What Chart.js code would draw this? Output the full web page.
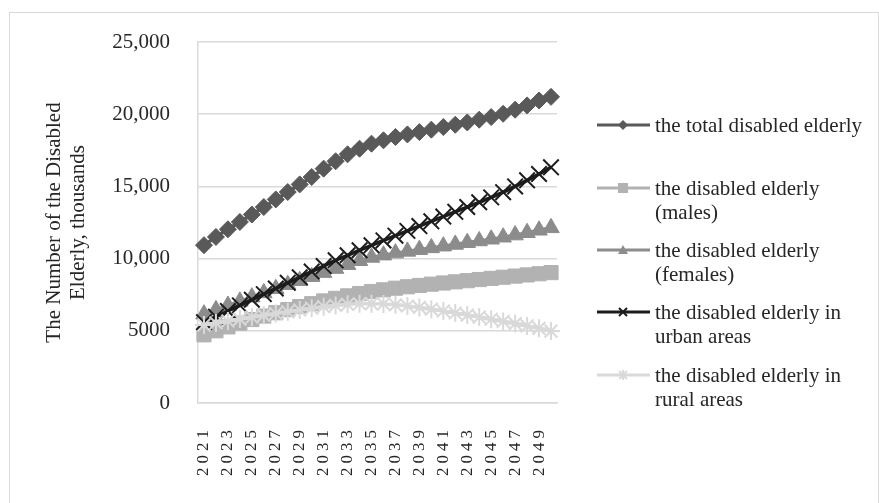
<!DOCTYPE html>
<html>
<head>
<meta charset="utf-8">
<script src="https://cdn.jsdelivr.net/npm/chart.js@4/dist/chart.umd.min.js"></script>
<style>
  html, body { margin: 0; padding: 0; background: #ffffff; }
  #wrap { position: relative; width: 879px; height: 503px; overflow: hidden;
          font-family: "Liberation Serif", "Times New Roman", serif; color: #262626; }
  #frame { position: absolute; left: 9px; top: 12px; width: 870px; height: 540px;
           border: 1.5px solid #d9d9d9; box-sizing: border-box; }
  #c { position: absolute; left: 0; top: 0; }
  .sym { position: absolute; left: 596px; width: 56px; height: 24px; }
  .txt { position: absolute; left: 655px; font-size: 21px; line-height: 24px; white-space: nowrap; }
</style>
</head>
<body>
<div id="wrap">
  <div id="frame"></div>
  <canvas id="c" width="879" height="503"></canvas>
  <div id="legend"></div>
</div>
<script>
// ---- data (thousands) ----
const years = ['2021','2022','2023','2024','2025','2026','2027','2028','2029','2030',
               '2031','2032','2033','2034','2035','2036','2037','2038','2039','2040',
               '2041','2042','2043','2044','2045','2046','2047','2048','2049','2050'];
const totalDisabled = [10930,11500,12030,12540,13050,13570,14100,14610,15140,15650,
                       16230,16740,17220,17610,17960,18190,18420,18600,18760,18930,
                       19110,19270,19430,19620,19800,20030,20310,20610,20950,21200];
const malesDisabled = [4720,5000,5270,5530,5780,6020,6250,6470,6680,6880,
                       7070,7250,7420,7580,7720,7840,7950,8050,8140,8230,
                       8310,8390,8470,8550,8630,8710,8790,8870,8950,9030];
const femalesDisabled = [6150,6450,6750,7040,7330,7620,7910,8190,8470,8750,
                         9030,9310,9580,9850,10080,10240,10380,10500,10620,10740,
                         10860,10980,11100,11220,11340,11480,11630,11790,11960,12130];
const urbanDisabled = [5600,5980,6370,6760,7150,7540,7930,8320,8710,9100,
                       9480,9880,10230,10580,10920,11260,11590,11920,12250,12580,
                       12910,13240,13570,13900,14240,14600,15000,15420,15860,16320];
const ruralDisabled = [5400,5540,5680,5810,5940,6070,6200,6320,6440,6560,
                       6670,6760,6830,6870,6880,6860,6800,6720,6620,6500,
                       6370,6230,6090,5950,5800,5650,5500,5340,5170,4980];
const yTickLabels = ['0','5000','10,000','15,000','20,000','25,000'];
const seriesNames = [
  ['the total disabled elderly'],
  ['the disabled elderly', '(males)'],
  ['the disabled elderly', '(females)'],
  ['the disabled elderly in', 'urban areas'],
  ['the disabled elderly in', 'rural areas']
];
const yTitle = ['The Number of the Disabled', 'Elderly, thousands'];

// ---- styles ----
const FONT = '"Liberation Serif", "Times New Roman", serif';
const TEXT = '#262626';
const GRID = '#d9d9d9';
const styles = [
  { color: '#595959', point: 'rectRot', r: 8.5, bw: 1 },
  { color: '#b2b2b2', point: 'rect', r: 10, bw: 1 },
  { color: '#8c8c8c', point: 'triangle', r: 9.5, bw: 1 },
  { color: '#1c1c1c', point: 'crossRot', r: 11, bw: 2 },
  { color: '#d9d9d9', point: 'star', r: 9, bw: 2 }
];
const seriesData = [totalDisabled, malesDisabled, femalesDisabled, urbanDisabled, ruralDisabled];

const datasets = seriesData.map((d, i) => ({
  label: seriesNames[i].join(' '),
  data: d,
  borderColor: styles[i].color,
  backgroundColor: styles[i].color,
  borderWidth: 3.5,
  pointStyle: styles[i].point,
  pointRadius: styles[i].r,
  pointBorderWidth: styles[i].bw,
  pointBackgroundColor: styles[i].color,
  pointBorderColor: styles[i].color,
  tension: 0.3,
  order: 5 - i
}));

const spacingPlugin = {
  id: 'xLabelSpacing',
  afterDatasetsDraw(chart) { chart.ctx.letterSpacing = '4px'; },
  afterDraw(chart) { chart.ctx.letterSpacing = '0px'; }
};

new Chart(document.getElementById('c'), {
  type: 'line',
  data: { labels: years, datasets },
  plugins: [spacingPlugin],
  options: {
    responsive: false,
    animation: false,
    devicePixelRatio: 1,
    layout: { padding: { left: 38, top: 42, right: 322, bottom: 0 } },
    plugins: { legend: { display: false }, tooltip: { enabled: false } },
    scales: {
      x: {
        type: 'category',
        offset: true,
        grid: { display: false, drawTicks: false },
        border: { display: true, color: GRID, width: 1.5 },
        afterFit: s => { s.height = 100; },
        ticks: {
          autoSkip: false, maxRotation: 90, minRotation: 90, padding: 23,
          font: { family: FONT, size: 17 }, color: TEXT, z: 1,
          callback: (v, i) => (i % 2 === 0 ? years[i] : '')
        }
      },
      y: {
        min: 0, max: 25000,
        afterFit: s => { s.width = 160; },
        grid: { color: GRID, lineWidth: 1.5, drawTicks: false },
        border: { display: true, color: GRID, width: 1.5 },
        ticks: {
          stepSize: 5000, padding: 28, color: TEXT,
          font: { family: FONT, size: 21 },
          callback: v => yTickLabels[Math.round(v / 5000)]
        },
        title: {
          display: true, text: yTitle, color: TEXT,
          font: { family: FONT, size: 21, lineHeight: 1.15 },
          padding: { top: 4, bottom: 0 }
        }
      }
    }
  }
});

// ---- legend (HTML) ----
const legendY = [125, 188, 250, 312, 375];
function markerSvg(i) {
  const c = styles[i].color;
  const cx = 27, cy = 12;
  let m = '';
  if (i === 0) m = `<polygon points="${cx},${cy-5} ${cx+5},${cy} ${cx},${cy+5} ${cx-5},${cy}" fill="${c}"/>`;
  if (i === 1) m = `<rect x="${cx-5}" y="${cy-5}" width="10" height="10" fill="${c}"/>`;
  if (i === 2) m = `<polygon points="${cx},${cy-5} ${cx+5},${cy+4} ${cx-5},${cy+4}" fill="${c}"/>`;
  if (i === 3) m = `<path d="M${cx-4} ${cy-4}L${cx+4} ${cy+4}M${cx+4} ${cy-4}L${cx-4} ${cy+4}" stroke="${c}" stroke-width="2"/>`;
  if (i === 4) m = `<path d="M${cx-4} ${cy-4}L${cx+4} ${cy+4}M${cx+4} ${cy-4}L${cx-4} ${cy+4}M${cx} ${cy-5}L${cx} ${cy+5}" stroke="${c}" stroke-width="2"/>`;
  return `<svg width="56" height="24"><line x1="1" y1="${cy}" x2="54" y2="${cy}" stroke="${c}" stroke-width="3"/>${m}</svg>`;
}
const leg = document.getElementById('legend');
seriesNames.forEach((lines, i) => {
  const y = legendY[i];
  const s = document.createElement('div');
  s.className = 'sym'; s.style.top = (y - 12) + 'px';
  s.innerHTML = markerSvg(i);
  leg.appendChild(s);
  const t = document.createElement('div');
  t.className = 'txt'; t.style.top = (y - 12) + 'px';
  t.innerHTML = lines.join('<br>');
  leg.appendChild(t);
});
</script>
</body>
</html>
